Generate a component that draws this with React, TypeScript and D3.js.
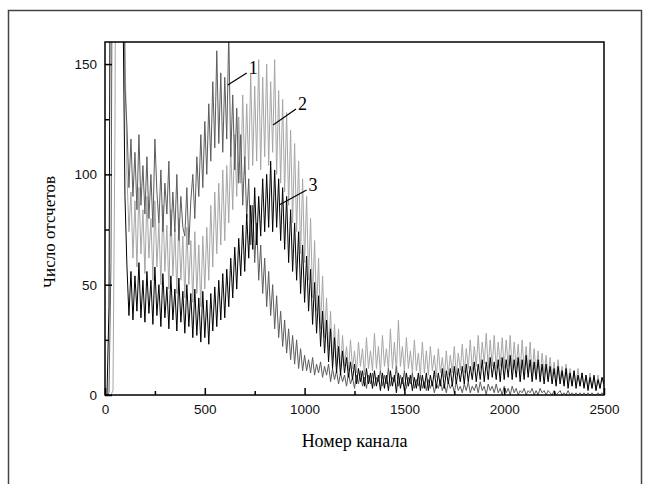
import React, { useEffect, useRef } from 'react';
import * as d3 from 'd3';

// channel step between samples (0..2500)
const STEP = 10;

// curve 1 - dark grey (peak near channel 600)
const curve1 = [
  0, 0, 1, 60, 300, 400, 400, 400, 380, 260, 140, 122, 94, 116, 90, 110, 84, 118, 86, 104,
  82, 108, 80, 100, 76, 116, 92, 78, 102, 74, 96, 82, 106, 72, 92, 74, 100, 70, 90, 76,
  72, 94, 68, 88, 100, 80, 108, 90, 118, 94, 124, 100, 132, 106, 142, 112, 156, 114, 146, 110,
  144, 116, 164, 108, 136, 102, 130, 96, 118, 86, 108, 80, 98, 68, 86, 60, 78, 52, 68, 46,
  62, 40, 56, 36, 50, 30, 45, 26, 38, 22, 34, 19, 30, 16, 27, 14, 25, 12, 21, 11,
  18, 11, 16, 10, 17, 9, 14, 10, 15, 8, 13, 9, 14, 6, 12, 7, 11, 5, 10, 6,
  9, 4, 10, 5, 8, 3, 9, 5, 11, 4, 8, 3, 9, 5, 10, 4, 8, 6, 11, 4,
  9, 5, 12, 4, 8, 6, 13, 4, 9, 5, 11, 3, 8, 5, 10, 3, 7, 4, 9, 3,
  6, 2, 7, 3, 6, 1, 5, 3, 7, 2, 5, 1, 6, 3, 5, 1, 6, 2, 4, 1,
  5, 2, 6, 1, 4, 2, 5, 1, 6, 2, 4, 0, 5, 2, 4, 1, 5, 1, 3, 0,
  4, 1, 3, 0, 4, 1, 3, 0, 2, 1, 3, 0, 2, 1, 3, 0, 2, 0, 3, 1,
  2, 0, 2, 1, 0, 2, 0, 1, 2, 0, 1, 0, 2, 0, 1, 0, 1, 0, 1, 0,
  1, 0, 1, 0, 1, 0, 0, 1, 0, 1, 0
];

// curve 2 - light grey (peak near channel 820)
const curve2 = [
  0, 0, 0, 0, 2, 120, 400, 400, 400, 300, 160, 100, 74, 92, 62, 88, 58, 94, 64, 84,
  55, 90, 62, 80, 52, 88, 58, 78, 50, 86, 56, 77, 48, 84, 54, 75, 46, 80, 52, 72,
  44, 76, 50, 70, 42, 74, 46, 68, 40, 72, 48, 76, 52, 86, 58, 92, 64, 96, 68, 102,
  70, 104, 78, 112, 84, 118, 90, 126, 96, 136, 100, 132, 102, 146, 104, 140, 106, 152, 102, 144,
  108, 150, 104, 142, 110, 152, 100, 138, 96, 134, 92, 128, 86, 120, 78, 114, 74, 106, 64, 98,
  60, 90, 52, 80, 44, 70, 38, 62, 30, 54, 26, 44, 20, 38, 16, 32, 13, 30, 11, 27,
  13, 22, 11, 25, 12, 20, 10, 24, 13, 21, 9, 26, 12, 20, 11, 28, 12, 22, 10, 27,
  13, 21, 11, 30, 12, 24, 10, 34, 13, 22, 11, 26, 12, 20, 10, 25, 11, 19, 9, 24,
  10, 20, 9, 22, 11, 18, 8, 21, 10, 17, 8, 20, 9, 18, 10, 22, 9, 19, 11, 23,
  10, 21, 12, 25, 11, 22, 13, 27, 12, 24, 14, 28, 12, 25, 13, 27, 12, 24, 13, 26,
  12, 25, 13, 27, 11, 24, 12, 23, 10, 25, 11, 22, 10, 24, 9, 21, 10, 20, 8, 19,
  9, 18, 7, 17, 8, 15, 6, 16, 7, 13, 5, 14, 6, 12, 4, 11, 5, 12, 4, 10,
  4, 9, 3, 10, 3, 8, 2, 9, 3, 8, 4
];

// curve 3 - black (peak near channel 840)
const curve3 = [
  0, 0, 40, 300, 400, 400, 400, 400, 300, 180, 90, 58, 36, 56, 34, 54, 38, 60, 35, 52,
  33, 56, 37, 52, 32, 58, 36, 50, 31, 55, 35, 49, 30, 54, 34, 48, 29, 53, 33, 47,
  28, 50, 31, 46, 26, 48, 27, 44, 24, 47, 26, 43, 23, 46, 29, 49, 31, 52, 34, 55,
  35, 57, 40, 62, 44, 67, 48, 71, 54, 77, 56, 82, 62, 86, 66, 94, 68, 90, 72, 98,
  74, 100, 76, 106, 74, 102, 76, 98, 70, 94, 66, 90, 60, 84, 56, 78, 52, 74, 46, 68,
  42, 63, 38, 57, 32, 51, 28, 45, 22, 38, 19, 34, 15, 30, 12, 26, 10, 22, 9, 20,
  10, 17, 8, 15, 7, 14, 5, 12, 6, 11, 4, 12, 5, 10, 3, 11, 4, 9, 2, 10,
  3, 9, 2, 11, 4, 9, 1, 10, 3, 8, 2, 10, 4, 9, 2, 8, 3, 10, 2, 9,
  3, 10, 2, 9, 4, 11, 3, 10, 4, 12, 3, 11, 5, 12, 4, 13, 5, 12, 6, 13,
  5, 14, 6, 13, 7, 15, 6, 14, 7, 16, 6, 15, 7, 17, 8, 15, 7, 16, 6, 17,
  7, 16, 8, 18, 7, 16, 8, 17, 6, 16, 7, 18, 8, 16, 6, 15, 7, 16, 6, 14,
  5, 14, 6, 13, 5, 12, 4, 13, 5, 11, 4, 12, 3, 10, 4, 11, 3, 9, 4, 10,
  3, 9, 2, 8, 3, 9, 2, 7, 3, 8, 5
];

const xMajor = [0, 500, 1000, 1500, 2000, 2500];
const xMinor = [250, 750, 1250, 1750, 2250];
const yMajor = [0, 50, 100, 150];
const yMinor = [25, 75, 125];

// curve labels: leader from a point on the curve to a tip where the number sits
const labels = [
  { name: '1', channel: 615, value: 140.5, tipChannel: 710, tipValue: 146 },
  { name: '2', channel: 842, value: 122.4, tipChannel: 957, tipValue: 129.6 },
  { name: '3', channel: 872, value: 86.1, tipChannel: 1010, tipValue: 92.9 }
];

const App = () => {
  const svgRef = useRef<SVGSVGElement>(null);

  useEffect(() => {
    const svg = d3.select(svgRef.current);
    svg.selectAll('*').remove();

    const margin = { top: 42, right: 46, bottom: 89, left: 105 };
    const W = 650, H = 484;
    const width = W - margin.left - margin.right;
    const height = H - margin.top - margin.bottom;

    // outer frame of the scanned page
    svg.append('rect')
      .attr('x', 8.5).attr('y', 10.5)
      .attr('width', 633).attr('height', 500)
      .attr('fill', 'none')
      .attr('stroke', '#444')
      .attr('stroke-width', 1.5);

    const g = svg.append('g')
      .attr('transform', `translate(${margin.left},${margin.top})`);

    const x = d3.scaleLinear().domain([0, 2500]).range([0, width]);
    const y = d3.scaleLinear().domain([0, 160]).range([height, 0]);

    g.append('clipPath').attr('id', 'plot-clip')
      .append('rect').attr('width', width).attr('height', height);

    const line = d3.line<number>()
      .x((d, i) => x(i * STEP))
      .y(d => y(d));

    // light first, black on top
    const series = [
      { data: curve2, color: '#a6a6a6' },
      { data: curve1, color: '#5c5c5c' },
      { data: curve3, color: '#000' }
    ];
    series.forEach(s => {
      g.append('path')
        .datum(s.data)
        .attr('clip-path', 'url(#plot-clip)')
        .attr('fill', 'none')
        .attr('stroke', s.color)
        .attr('stroke-width', 1)
        .attr('d', line);
    });

    // plot frame
    g.append('rect')
      .attr('width', width).attr('height', height)
      .attr('fill', 'none')
      .attr('stroke', '#000')
      .attr('stroke-width', 1.5);

    const font = '"Liberation Sans", Arial, sans-serif';
    const serif = '"Liberation Serif", "Times New Roman", serif';

    // x axis
    const xAxis = g.append('g')
      .attr('transform', `translate(0,${height})`)
      .call(d3.axisBottom(x).tickValues(xMajor).tickSize(-7).tickPadding(9).tickFormat(d3.format('d')));
    g.append('g')
      .attr('transform', `translate(0,${height})`)
      .call(d3.axisBottom(x).tickValues(xMinor).tickSize(-4).tickFormat(() => ''))
      .call(a => a.select('.domain').remove());

    // y axis
    const yAxis = g.append('g')
      .call(d3.axisLeft(y).tickValues(yMajor).tickSize(-7).tickPadding(8).tickFormat(d3.format('d')));
    g.append('g')
      .call(d3.axisLeft(y).tickValues(yMinor).tickSize(-4).tickFormat(() => ''))
      .call(a => a.select('.domain').remove());

    [xAxis, yAxis].forEach(a => {
      a.select('.domain').remove();
      a.selectAll('text')
        .style('font-family', font)
        .style('font-size', '13.5px')
        .attr('fill', '#111');
    });
    g.selectAll('.tick line').attr('stroke', '#000').attr('stroke-width', 1.5);

    // curve numbers with leader lines
    labels.forEach(l => {
      const x1 = x(l.channel), y1 = y(l.value);
      const x2 = x(l.tipChannel), y2 = y(l.tipValue);
      g.append('line')
        .attr('x1', x1).attr('y1', y1)
        .attr('x2', x2).attr('y2', y2)
        .attr('stroke', '#000').attr('stroke-width', 1.2);
      g.append('text')
        .attr('x', x2 + 2).attr('y', y2 + 1)
        .attr('font-family', serif)
        .attr('font-size', 18)
        .attr('fill', '#000')
        .text(l.name);
    });

    // axis titles
    svg.append('text')
      .attr('x', margin.left + width / 2)
      .attr('y', 447)
      .attr('text-anchor', 'middle')
      .attr('font-family', serif)
      .attr('font-size', 18)
      .attr('fill', '#000')
      .text('Номер канала');

    svg.append('text')
      .attr('transform', 'translate(55,232) rotate(-90)')
      .attr('text-anchor', 'middle')
      .attr('font-family', serif)
      .attr('font-size', 17)
      .attr('fill', '#000')
      .text('Число отсчетов');
  }, []);

  return (
    <svg
      ref={svgRef}
      width={650}
      height={484}
      style={{ position: 'absolute', left: 0, top: 0, background: '#fff' }}
    />
  );
};

export default App;
